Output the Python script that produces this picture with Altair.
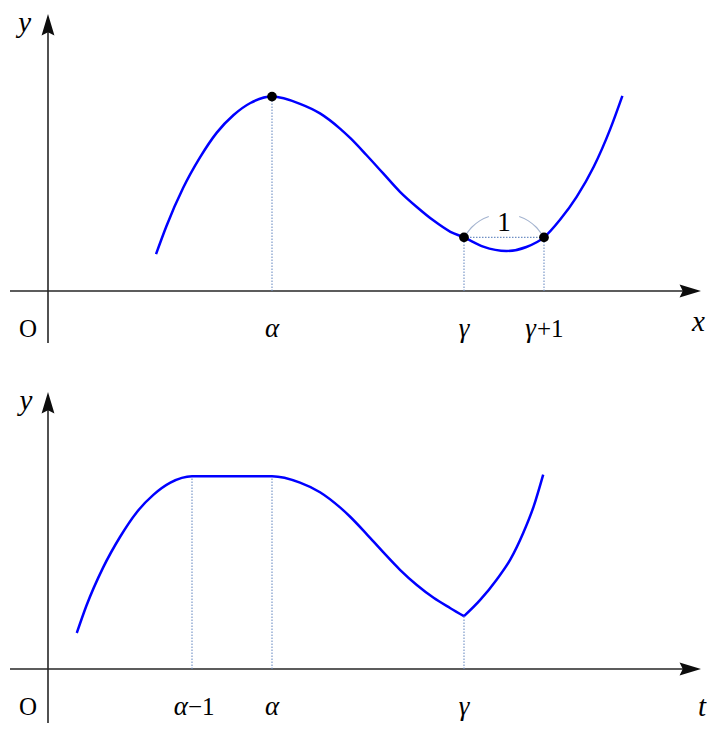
import altair as alt
import pandas as pd

# ---------------- values ----------------
ALPHA = 2.8
GAMMA = 5.2

# top panel : y = f(x)
f_x = [1.35, 1.48, 1.69, 1.90, 2.11, 2.32, 2.53, 2.80, 3.15, 3.40, 3.65, 3.78, 3.98, 4.19,
       4.40, 4.61, 4.82, 5.03, 5.20, 5.44, 5.73, 5.98, 6.20, 6.40, 6.61, 6.82, 7.03, 7.18]
f_y = [0.46, 0.81, 1.29, 1.67, 1.98, 2.20, 2.35, 2.43, 2.34, 2.22, 2.03, 1.91, 1.70, 1.47,
       1.24, 1.05, 0.88, 0.74, 0.67, 0.555, 0.50, 0.55, 0.67, 0.89, 1.18, 1.55, 2.03, 2.44]

# bottom panel : y = g(t), two pieces meeting at the corner t = gamma
g1_t = [0.36, 0.48, 0.69, 0.90, 1.11, 1.32, 1.53, 1.80, 2.80, 3.15, 3.40, 3.65, 3.78, 3.98,
        4.19, 4.40, 4.61, 4.82, 5.03, 5.20]
g1_y = [0.45, 0.79, 1.27, 1.65, 1.96, 2.18, 2.33, 2.41, 2.41, 2.33, 2.21, 2.02, 1.90, 1.69,
        1.46, 1.24, 1.05, 0.89, 0.76, 0.66]
g2_t = [5.20, 5.40, 5.61, 5.78, 5.94, 6.07, 6.19]
g2_y = [0.66, 0.86, 1.12, 1.37, 1.70, 2.03, 2.43]

# marked points / dotted drop lines
top_marks_x = [ALPHA, GAMMA, GAMMA + 1]
top_marks_y = [2.43, 0.67, 0.67]
bot_drops_x = [ALPHA - 1, ALPHA, GAMMA]
bot_drops_y = [2.41, 2.41, 0.66]

# little arcs around the "1"
arc_l_x = [5.22, 5.30, 5.40, 5.51]
arc_l_y = [0.70, 0.80, 0.88, 0.93]
arc_r_x = [5.89, 6.00, 6.10, 6.18]
arc_r_y = [0.93, 0.88, 0.80, 0.70]

# axis extents (data units)
axis_x_from, axis_x_to = -0.475, 8.1625
axis_y_top = 3.4625
axis_y_bottom = {"top": -0.65, "bottom": -0.675}

# text
axis_names = {"top": ("y", "x"), "bottom": ("y", "t")}
greek = ["α", "γ"]
origin = "O"
unit = "1"

# ---------------- layout helpers ----------------
SHIFT = {"top": 4.725, "bottom": 0.0}   # vertical offset of each panel in the shared scale


def shift(df, cols):
    df = df.copy()
    for c in cols:
        df[c] = df[c] + df["panel"].map(SHIFT)
    return df


xscale = alt.Scale(domain=[-0.5, 8.2375], nice=False, zero=False)
yscale = alt.Scale(domain=[-0.7, 8.2625], nice=False, zero=False)
X = alt.X("x:Q", scale=xscale, axis=None)
Y = alt.Y("y:Q", scale=yscale, axis=None)

SERIF = "Liberation Serif, DejaVu Serif, serif"
AXIS_C = "#262626"
DOT_C = "#6f8fc4"

layers = []

# axes lines
haxis = shift(pd.DataFrame({"x": [axis_x_from] * 2, "x2": [axis_x_to - 0.05] * 2,
                            "y": [0.0, 0.0], "panel": ["top", "bottom"]}), ["y"])
layers.append(alt.Chart(haxis).mark_rule(color=AXIS_C, strokeWidth=1.6).encode(
    x=X, x2="x2:Q", y=Y))
vaxis = shift(pd.DataFrame({"x": [0.0, 0.0],
                            "y": [axis_y_bottom["top"], axis_y_bottom["bottom"]],
                            "y2": [axis_y_top - 0.05] * 2,
                            "panel": ["top", "bottom"]}), ["y", "y2"])
layers.append(alt.Chart(vaxis).mark_rule(color=AXIS_C, strokeWidth=1.6).encode(
    x=X, y=Y, y2="y2:Q"))

# arrow heads
RIGHT = "M0,0L-2,-0.6L-1.7,0L-2,0.6Z"
UP = "M0,0L-0.6,2L0,1.7L0.6,2Z"
rarrow = shift(pd.DataFrame({"x": [axis_x_to] * 2, "y": [0.0, 0.0],
                             "panel": ["top", "bottom"]}), ["y"])
layers.append(alt.Chart(rarrow).mark_point(shape=RIGHT, filled=True, size=460,
                                           color="#0d0d0d", opacity=1, strokeWidth=0).encode(x=X, y=Y))
uarrow = shift(pd.DataFrame({"x": [0.0, 0.0], "y": [axis_y_top] * 2,
                             "panel": ["top", "bottom"]}), ["y"])
layers.append(alt.Chart(uarrow).mark_point(shape=UP, filled=True, size=460,
                                           color="#0d0d0d", opacity=1, strokeWidth=0).encode(x=X, y=Y))

# dotted drop lines
drops = shift(pd.DataFrame({
    "x": top_marks_x + bot_drops_x,
    "y": [0.0] * 6,
    "y2": top_marks_y + bot_drops_y,
    "panel": ["top"] * 3 + ["bottom"] * 3}), ["y", "y2"])
layers.append(alt.Chart(drops).mark_rule(color=DOT_C, strokeWidth=1.1, strokeDash=[1.5, 1.5]).encode(
    x=X, y=Y, y2="y2:Q"))
hdot = shift(pd.DataFrame({"x": [GAMMA], "x2": [GAMMA + 1], "y": [top_marks_y[1]],
                           "panel": ["top"]}), ["y"])
layers.append(alt.Chart(hdot).mark_rule(color=DOT_C, strokeWidth=1.1, strokeDash=[1.5, 1.5]).encode(
    x=X, x2="x2:Q", y=Y))

# arcs
arcs = shift(pd.DataFrame({"x": arc_l_x + arc_r_x, "y": arc_l_y + arc_r_y,
                           "side": ["l"] * 4 + ["r"] * 4, "panel": ["top"] * 8}), ["y"])
layers.append(alt.Chart(arcs).mark_line(color="#a3b3cf", strokeWidth=1.1, interpolate="monotone").encode(
    x=X, y=Y, detail="side:N"))

# curves
curves = shift(pd.DataFrame({
    "x": f_x + g1_t + g2_t,
    "y": f_y + g1_y + g2_y,
    "series": ["f"] * len(f_x) + ["g1"] * len(g1_t) + ["g2"] * len(g2_t),
    "panel": ["top"] * len(f_x) + ["bottom"] * (len(g1_t) + len(g2_t))}), ["y"])
layers.append(alt.Chart(curves).mark_line(color="#0000ff", strokeWidth=2.5, interpolate="monotone").encode(
    x=X, y=Y, detail="series:N"))

# marked points
pts = shift(pd.DataFrame({"x": top_marks_x, "y": top_marks_y, "panel": ["top"] * 3}), ["y"])
layers.append(alt.Chart(pts).mark_circle(size=95, color="black", opacity=1).encode(x=X, y=Y))

# axis names (italic)
names = shift(pd.DataFrame({
    "t": [axis_names["top"][0], axis_names["top"][1], axis_names["bottom"][0], axis_names["bottom"][1]],
    "x": [-0.29, 8.13, -0.275, 8.175],
    "y": [3.35, -0.3875, 3.35, -0.475],
    "panel": ["top", "top", "bottom", "bottom"]}), ["y"])
layers.append(alt.Chart(names).mark_text(font=SERIF, fontSize=29, fontStyle="italic", color="black").encode(
    x=X, y=Y, text="t:N"))

# greek tick labels
ticks = shift(pd.DataFrame({
    "t": greek + greek,
    "x": [ALPHA, GAMMA, ALPHA, GAMMA],
    "y": [-0.475] * 4,
    "panel": ["top", "top", "bottom", "bottom"]}), ["y"])
layers.append(alt.Chart(ticks).mark_text(font=SERIF, fontSize=27, fontStyle="italic", color="black").encode(
    x=X, y=Y, text="t:N"))

# origin labels
orig = shift(pd.DataFrame({"t": [origin, origin], "x": [-0.25, -0.25], "y": [-0.475, -0.475],
                           "panel": ["top", "bottom"]}), ["y"])
layers.append(alt.Chart(orig).mark_text(font=SERIF, fontSize=25, color="black").encode(
    x=X, y=Y, text="t:N"))

# "1" over the unit gap
one = shift(pd.DataFrame({"t": [unit], "x": [GAMMA + 0.5], "y": [0.85], "panel": ["top"]}), ["y"])
layers.append(alt.Chart(one).mark_text(font=SERIF, fontSize=27, color="black").encode(
    x=X, y=Y, text="t:N"))

# compound labels  gamma+1  and  alpha-1
gp_l = shift(pd.DataFrame({"t": ["γ"], "x": [GAMMA + 1], "y": [-0.475], "panel": ["top"]}), ["y"])
gp_r = shift(pd.DataFrame({"t": ["+1"], "x": [GAMMA + 1], "y": [-0.475], "panel": ["top"]}), ["y"])
am_l = shift(pd.DataFrame({"t": ["α"], "x": [ALPHA - 1], "y": [-0.475], "panel": ["bottom"]}), ["y"])
am_r = shift(pd.DataFrame({"t": ["−1"], "x": [ALPHA - 1], "y": [-0.475], "panel": ["bottom"]}), ["y"])
layers.append(alt.Chart(gp_l).mark_text(font=SERIF, fontSize=27, fontStyle="italic", color="black",
                                        align="right", dx=-8).encode(x=X, y=Y, text="t:N"))
layers.append(alt.Chart(gp_r).mark_text(font=SERIF, fontSize=25, color="black",
                                        align="left", dx=-7).encode(x=X, y=Y, text="t:N"))
layers.append(alt.Chart(am_l).mark_text(font=SERIF, fontSize=27, fontStyle="italic", color="black",
                                        align="right", dx=-4).encode(x=X, y=Y, text="t:N"))
layers.append(alt.Chart(am_r).mark_text(font=SERIF, fontSize=25, color="black",
                                        align="left", dx=-4).encode(x=X, y=Y, text="t:N"))

chart = alt.layer(*layers).properties(
    width=699, height=717, padding=0,
    autosize=alt.AutoSizeParams(type="none"),
).configure_view(strokeWidth=0)

chart.save("out.html", embed_options={"renderer": "svg", "actions": False})
